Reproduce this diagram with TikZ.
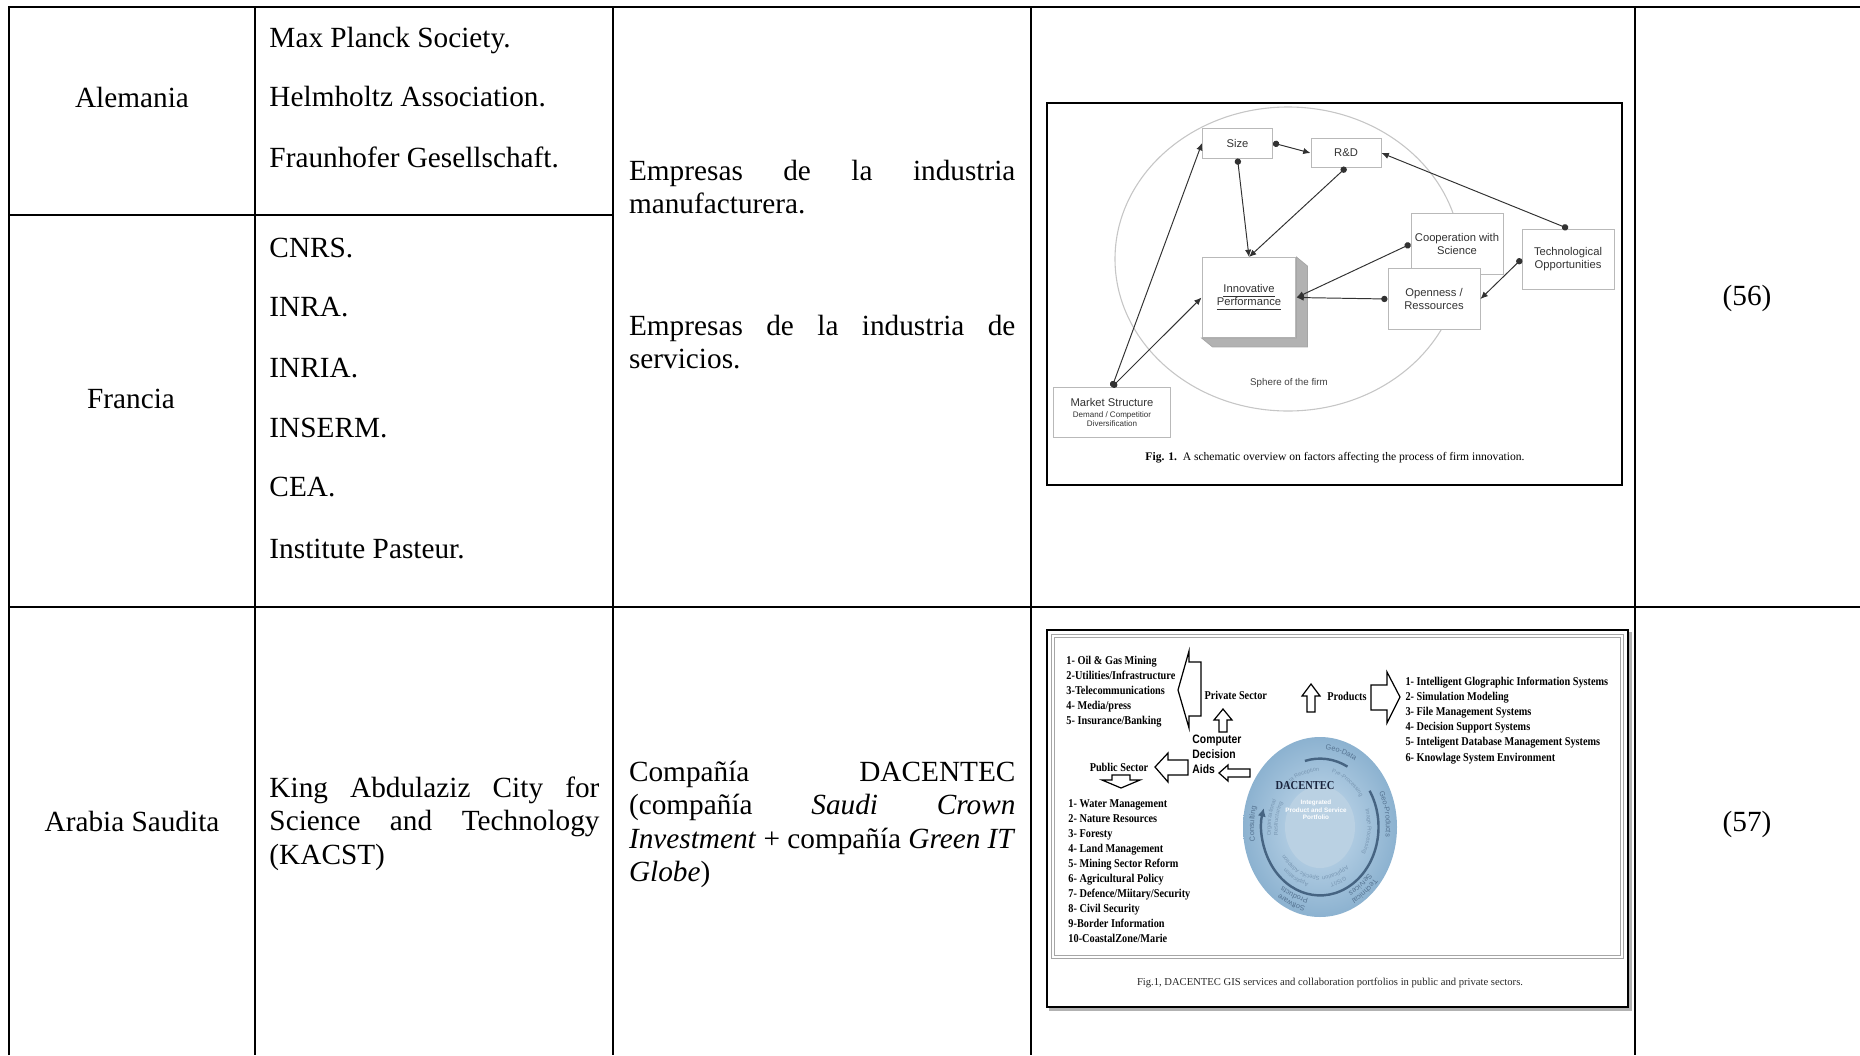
\documentclass[tikz,border=0pt]{standalone}
\usepackage{fontspec}
\setmainfont{Liberation Serif}
\newfontfamily\figsans{Liberation Sans}
\newfontfamily\figserif[FakeStretch=0.86]{Liberation Serif}
\newfontfamily\figsanscond[FakeStretch=0.85]{Liberation Sans}
\usetikzlibrary{arrows.meta,decorations.text,positioning}

\definecolor{boxgray}{RGB}{185,185,185}
\definecolor{linkgray}{RGB}{50,50,50}
\definecolor{discblue}{RGB}{140,178,208}
\definecolor{discpale}{RGB}{200,221,238}
\definecolor{ringdark}{RGB}{70,100,130}
\definecolor{ringtext}{RGB}{85,115,145}
\definecolor{ringpale}{RGB}{120,150,178}
\definecolor{dacnavy}{RGB}{25,35,60}

% a justified line: words are separated by \hfill
\newcommand{\spreadline}[2]{\leavevmode\hbox to #1{#2}}
\newcommand{\subfont}{\fontsize{3.3}{3.9}\selectfont}
\newcommand{\ringfont}{\figsans\fontsize{3}{3}\selectfont}
\newcommand{\innerfont}{\figsans\fontsize{2.3}{2.3}\selectfont}

\tikzset{
  grid/.style={line width=0.82pt},
  cell/.style={font=\fontsize{12}{13.8}\selectfont, inner sep=0pt, anchor=base west},
  cellpar/.style={cell, text width=#1, align=left},
  frame/.style={line width=0.8pt},
  factor/.style={draw=boxgray, fill=white, line width=0.4pt, align=center,
    font=\figsans\fontsize{4.6}{5.4}\selectfont, text=black!80, inner sep=1pt},
  link/.style={{Circle[length=2.6pt]}-{Latex[length=3pt,width=2.6pt]},
    draw=linkgray, line width=0.4pt},
  listitem/.style={font=\figserif\bfseries\fontsize{4.9}{6}\selectfont,
    anchor=base west, inner sep=0pt},
  blockarrow/.style={draw, fill=white, line width=0.5pt, line join=miter},
  ringtxt/.style 2 args={decorate, decoration={text along path,
    text align=center, text={|#1|#2}}},
}

\begin{document}
\begin{tikzpicture}[x=0.41pt, y=-0.41pt]
\useasboundingbox (0,0) rectangle (1860,1055);

% table rules
\draw[grid] (8.5,1055) -- (8.5,7) -- (1860,7);
\foreach \x in {255,613,1031,1635}
  \draw[grid] (\x,7) -- (\x,1055);
\draw[grid] (8.5,215) -- (613,215);
\draw[grid] (8.5,607) -- (1860,607);

% countries
\node[cell, anchor=base] (de) at (132,107) {Alemania};
\node[cell, anchor=base] (fr) at (131,408) {Francia};
\node[cell, anchor=base] (sa) at (132,831) {Arabia Saudita};

% institutions
\foreach \name/\txt/\y in {mpg/Max Planck Society./47, hgf/Helmholtz Association./106,
    fhg/Fraunhofer Gesellschaft./167, cnrs/CNRS./257, inra/INRA./316,
    inria/INRIA./377, inserm/INSERM./437, cea/CEA./496, pasteur/Institute Pasteur./558}
  \node[cell] (\name) at (269,\y) {\txt};
\node[cellpar=135.3pt] (kacst) at (269,797)
  {\spreadline{135.3pt}{King\hfill Abdulaziz\hfill City\hfill for}\\
  \spreadline{135.3pt}{Science\hfill and\hfill Technology}\\(KACST)};

% companies
\node[cellpar=158.4pt] (manuf) at (628.6,180)
  {\spreadline{158.4pt}{Empresas\hfill de\hfill la\hfill industria}\\manufacturera.};
\node[cellpar=158.4pt] (serv) at (628.6,335)
  {\spreadline{158.4pt}{Empresas\hfill de\hfill la\hfill industria\hfill de}\\servicios.};
\node[cellpar=158.4pt] (crown) at (628.6,781)
  {\spreadline{158.4pt}{Compañía\hfill DACENTEC}\\
  \spreadline{158.4pt}{(compañía\hfill\textit{Saudi}\hfill\textit{Crown}}\\
  \spreadline{158.4pt}{\textit{Investment}\hfill+\hfill compañía\hfill\textit{Green}\hfill\textit{IT}}\\
  \textit{Globe})};

% references
\node[cell, anchor=base] (ref56) at (1747,305) {(56)};
\node[cell, anchor=base] (ref57) at (1747,831) {(57)};

% figure: factors of firm innovation
\draw[frame] (1047,103) rectangle (1622,485);
\draw[draw=gray!45, line width=0.45pt] (1288,259) ellipse [x radius=173, y radius=152];
\node[font=\figsans\fontsize{4}{4.8}\selectfont, text=black!75] (sphere) at (1289,383)
  {Sphere of the firm};
\node[factor, minimum width=28.7pt, minimum height=12.3pt] (size) at (1237.5,143) {Size};
\node[factor, minimum width=28.7pt, minimum height=11.5pt] (rd) at (1346,153) {R\&D};
\node[factor, minimum width=37.7pt, minimum height=25.4pt] (coop) at (1457,244)
  {Cooperation with\\Science};
\node[factor, minimum width=37.7pt, minimum height=25.4pt] (open) at (1434,299)
  {Openness /\\Ressources};
\node[factor, minimum width=37.7pt, minimum height=24.6pt] (tech) at (1568,259)
  {Technological\\Opportunities};
\node[factor, minimum width=47.6pt, minimum height=20.5pt] (mkt) at (1112,412.5)
  {Market Structure\\[-1pt]{\subfont Demand / Competitior}\\[-1.5pt]{\subfont Diversification}};
\node[factor, minimum width=38.5pt, minimum height=32.8pt] (perf) at (1249,297.5)
  {\underline{Innovative}\\\underline{Performance}};
\fill[gray!60, draw=gray!70, line width=0.3pt] (perf.north east) -- ++(11,9)
  -- ([shift={(11,9)}]perf.south east) -- ([shift={(11,9)}]perf.south west)
  -- (perf.south west) -- (perf.south east) -- cycle;
\draw[link] (size.south) -- (perf.north);
\draw[link] (rd.south) -- (perf.north);
\draw[link] (size.east) -- (rd.west);
\draw[link] (tech.north) -- (rd.east);
\draw[link] (coop.west) -- (perf.east);
\draw[link] (open.west) -- (perf.east);
\draw[link] (tech.west) -- (open.east);
\draw[link] (mkt.north) -- (size.west);
\draw[link] (mkt.north) -- (perf.west);
\node[font=\fontsize{4.75}{5.4}\selectfont] (cap1) at (1335,458)
  {\textbf{Fig. 1.}\ \ A schematic overview on factors affecting the process of firm innovation.};

% figure: DACENTEC portfolio
\draw[line width=0.7pt] (1047,630) rectangle (1628,1007);
\draw[gray!60, line width=1.2pt] (1049,1009.5) -- (1630.5,1009.5) -- (1630.5,632);
\draw[gray!70, double=white, double distance=0.7pt, line width=0.35pt]
  (1053,636) rectangle (1622,957);

\begin{scope}[shift={(1320,827)}, y={(0pt,0.41pt)}]
  \shade[inner color=discpale, outer color=discblue] (0,0) ellipse [x radius=77, y radius=90];
  \fill[discblue!60!white] (0,0) ellipse [x radius=35, y radius=41];
  \draw[ringdark, line width=1pt] (105:58.5 and 68.4)
    arc [start angle=105, end angle=62, x radius=58.5, y radius=68.4];
  \draw[ringdark, line width=1pt, -{Latex[length=3.4pt,width=3.4pt]}] (32:58.5 and 68.4)
    arc [start angle=32, end angle=-196, x radius=58.5, y radius=68.4];
  % outer ring
  \path[ringtxt={\color{ringtext}\ringfont}{Geo-Data}] (105:66 and 77.5)
    arc [start angle=105, end angle=40, x radius=66, y radius=77.5];
  \path[ringtxt={\color{ringtext}\ringfont}{Geo-Products}] (45:66 and 77.5)
    arc [start angle=45, end angle=-25, x radius=66, y radius=77.5];
  \path[ringtxt={\color{ringtext}\ringfont}{Consulting}] (215:66 and 77.5)
    arc [start angle=215, end angle=140, x radius=66, y radius=77.5];
  \path[ringtxt={\color{ringtext}\ringfont}{Technical}] (-15:69.5 and 81.5)
    arc [start angle=-15, end angle=-90, x radius=69.5, y radius=81.5];
  \path[ringtxt={\color{ringtext}\ringfont}{Services}] (-15:62.5 and 73)
    arc [start angle=-15, end angle=-90, x radius=62.5, y radius=73];
  \path[ringtxt={\color{ringtext}\ringfont}{Software}] (-75:69.5 and 81.5)
    arc [start angle=-75, end angle=-150, x radius=69.5, y radius=81.5];
  \path[ringtxt={\color{ringtext}\ringfont}{Products}] (-75:62.5 and 73)
    arc [start angle=-75, end angle=-150, x radius=62.5, y radius=73];
  % inner ring
  \path[ringtxt={\color{ringpale}\innerfont}{Data Reception}] (150:47.7 and 55.8)
    arc [start angle=150, end angle=75, x radius=47.7, y radius=55.8];
  \path[ringtxt={\color{ringpale}\innerfont}{Pre-Processing}] (90:47.7 and 55.8)
    arc [start angle=90, end angle=20, x radius=47.7, y radius=55.8];
  \path[ringtxt={\color{ringpale}\innerfont}{Image Processing}] (40:47.7 and 55.8)
    arc [start angle=40, end angle=-50, x radius=47.7, y radius=55.8];
  \path[ringtxt={\color{ringpale}\innerfont}{GIS/IT}] (-35:49.3 and 57.6)
    arc [start angle=-35, end angle=-105, x radius=49.3, y radius=57.6];
  \path[ringtxt={\color{ringpale}\innerfont}{Application}] (-35:42.4 and 49.5)
    arc [start angle=-35, end angle=-105, x radius=42.4, y radius=49.5];
  \path[ringtxt={\color{ringpale}\innerfont}{Application}] (-80:49.3 and 57.6)
    arc [start angle=-80, end angle=-155, x radius=49.3, y radius=57.6];
  \path[ringtxt={\color{ringpale}\innerfont}{Specific Adaption}] (-75:42.4 and 49.5)
    arc [start angle=-75, end angle=-160, x radius=42.4, y radius=49.5];
  \path[ringtxt={\color{ringpale}\innerfont}{Organizational}] (210:49.3 and 57.6)
    arc [start angle=210, end angle=130, x radius=49.3, y radius=57.6];
  \path[ringtxt={\color{ringpale}\innerfont}{Restructuring}] (210:42.4 and 49.5)
    arc [start angle=210, end angle=130, x radius=42.4, y radius=49.5];
  \node[font=\figserif\bfseries\fontsize{5}{6}\selectfont, text=dacnavy] (dac) at (-15,41)
    {DACENTEC};
  \node[font=\figsans\bfseries\fontsize{2.6}{3}\selectfont, text=white, align=center]
    (portfolio) at (-4,17) {Integrated\\Product and Service\\Portfolio};
\end{scope}

% block arrows
\draw[blockarrow] (1178,690) -- (1189,651) -- (1189,662) -- (1201,662) -- (1201,716)
  -- (1189,716) -- (1189,728) -- cycle;
\draw[blockarrow] (1223,709) -- (1232,720) -- (1227,720) -- (1227,732) -- (1219,732)
  -- (1219,720) -- (1214,720) -- cycle;
\draw[blockarrow] (1155,767) -- (1168,753) -- (1168,760) -- (1188,760) -- (1188,775)
  -- (1168,775) -- (1168,782) -- cycle;
\draw[blockarrow] (1219,773) -- (1228,765) -- (1228,769) -- (1250,769) -- (1250,777)
  -- (1228,777) -- (1228,781) -- cycle;
\draw[blockarrow] (1112,775) -- (1130,775) -- (1130,780) -- (1140,780) -- (1121,788)
  -- (1102,780) -- (1112,780) -- cycle;
\draw[blockarrow] (1311,684) -- (1320,696) -- (1315,696) -- (1315,712) -- (1307,712)
  -- (1307,696) -- (1302,696) -- cycle;
\draw[blockarrow] (1371,685) -- (1387,685) -- (1387,672) -- (1400,697) -- (1387,723)
  -- (1387,710) -- (1371,710) -- cycle;

% sector lists
\foreach \txt [count=\i] in {1- Oil \& Gas Mining, 2-Utilities/Infrastructure,
    3-Telecommunications, 4- Media/press, 5- Insurance/Banking}
  \node[listitem] (priv\i) at (1066,{664.5+15.1*(\i-1)}) {\txt};
\foreach \txt [count=\i] in {1- Water Management, 2- Nature Resources, 3- Foresty,
    4- Land Management, 5- Mining Sector Reform, 6- Agricultural Policy,
    7- Defence/Miitary/Security, 8- Civil Security, 9-Border Information,
    10-CoastalZone/Marie}
  \node[listitem] (pub\i) at (1068,{807+15.1*(\i-1)}) {\txt};
\foreach \txt [count=\i] in {1- Intelligent Glographic Information Systems,
    2- Simulation Modeling, 3- File Management Systems, 4- Decision Support Systems,
    5- Inteligent Database Management Systems, 6- Knowlage System Environment}
  \node[listitem] (prod\i) at (1405,{685.5+15.1*(\i-1)}) {\txt};
\node[listitem] (privsec) at (1204,699) {Private Sector};
\node[listitem, anchor=base] (pubsec) at (1119,771) {Public Sector};
\node[listitem, anchor=base] (prods) at (1347,700) {Products};
\node[font=\figsanscond\bfseries\fontsize{5}{6.1}\selectfont, align=left, anchor=west,
  inner sep=0pt] (aids) at (1192,754) {Computer\\Decision\\Aids};
\node[font=\fontsize{4.35}{5}\selectfont, text=black!85] (cap2) at (1330,983)
  {Fig.1, DACENTEC GIS services and collaboration portfolios in public and private sectors.};
\end{tikzpicture}
\end{document}
